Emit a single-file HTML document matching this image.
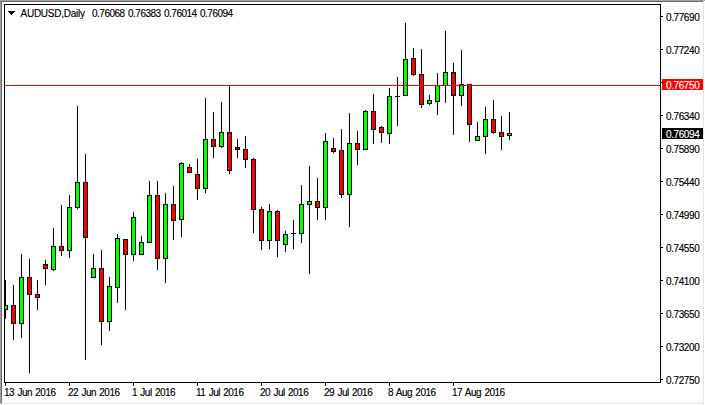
<!DOCTYPE html>
<html><head><meta charset="utf-8"><style>
html,body{margin:0;padding:0;background:#fff;}
#w div{-webkit-text-stroke:0.15px currentColor;}
#w{position:relative;width:705px;height:405px;overflow:hidden;background:#fff;font-family:"Liberation Sans",sans-serif;}
svg{position:absolute;left:0;top:0;}
.t{position:absolute;white-space:nowrap;font-size:10px;line-height:12px;color:#000;}
.pl{position:absolute;left:666px;white-space:nowrap;font-size:10px;line-height:12px;color:#000;letter-spacing:-0.4px;}
.dl{position:absolute;top:387px;letter-spacing:-0.5px;word-spacing:1px;white-space:nowrap;font-size:10px;line-height:12px;color:#000;}
</style></head><body><div id="w">
<svg width="705" height="405" viewBox="0 0 705 405" shape-rendering="crispEdges">
<rect x="0" y="0" width="705" height="1" fill="#a0a0a0"/><rect x="0" y="0" width="1" height="404" fill="#a0a0a0"/><rect x="1" y="1" width="702" height="1" fill="#696969"/><rect x="1" y="1" width="1" height="402" fill="#696969"/><rect x="703" y="1" width="1" height="403" fill="#e3e3e3"/><rect x="1" y="403" width="703" height="1" fill="#e3e3e3"/><rect x="4" y="4" width="657" height="1" fill="#000"/><rect x="4" y="382" width="657" height="1" fill="#000"/><rect x="4" y="4" width="1" height="379" fill="#000"/><rect x="660" y="4" width="1" height="379" fill="#000"/><rect x="661" y="16" width="2" height="1" fill="#000"/><rect x="661" y="49" width="2" height="1" fill="#000"/><rect x="661" y="82" width="2" height="1" fill="#000"/><rect x="661" y="115" width="2" height="1" fill="#000"/><rect x="661" y="148" width="2" height="1" fill="#000"/><rect x="661" y="181" width="2" height="1" fill="#000"/><rect x="661" y="214" width="2" height="1" fill="#000"/><rect x="661" y="247" width="2" height="1" fill="#000"/><rect x="661" y="280" width="2" height="1" fill="#000"/><rect x="661" y="313" width="2" height="1" fill="#000"/><rect x="661" y="346" width="2" height="1" fill="#000"/><rect x="661" y="379" width="2" height="1" fill="#000"/><rect x="5" y="383" width="1" height="3" fill="#000"/><rect x="69" y="383" width="1" height="3" fill="#000"/><rect x="133" y="383" width="1" height="3" fill="#000"/><rect x="197" y="383" width="1" height="3" fill="#000"/><rect x="261" y="383" width="1" height="3" fill="#000"/><rect x="325" y="383" width="1" height="3" fill="#000"/><rect x="389" y="383" width="1" height="3" fill="#000"/><rect x="453" y="383" width="1" height="3" fill="#000"/><rect x="662" y="79" width="41" height="11" fill="#ff0000"/><rect x="662" y="128" width="41" height="11" fill="#000"/>
<svg x="5" y="5" width="655" height="377" viewBox="5 5 655 377" overflow="hidden"><rect x="5" y="280" width="1" height="39" fill="#000"/><rect x="3" y="305" width="5" height="5" fill="#000"/><rect x="4" y="306" width="3" height="3" fill="#00ff00"/><rect x="13" y="285" width="1" height="55" fill="#000"/><rect x="11" y="305" width="5" height="19" fill="#000"/><rect x="12" y="306" width="3" height="17" fill="#ff0000"/><rect x="21" y="254" width="1" height="84" fill="#000"/><rect x="19" y="277" width="5" height="47" fill="#000"/><rect x="20" y="278" width="3" height="45" fill="#00ff00"/><rect x="29" y="259" width="1" height="114" fill="#000"/><rect x="27" y="277" width="5" height="18" fill="#000"/><rect x="28" y="278" width="3" height="16" fill="#ff0000"/><rect x="37" y="280" width="1" height="30" fill="#000"/><rect x="35" y="294" width="5" height="4" fill="#000"/><rect x="36" y="295" width="3" height="2" fill="#ff0000"/><rect x="45" y="260" width="1" height="25" fill="#000"/><rect x="43" y="264" width="5" height="5" fill="#000"/><rect x="44" y="265" width="3" height="3" fill="#ff0000"/><rect x="53" y="228" width="1" height="43" fill="#000"/><rect x="51" y="246" width="5" height="24" fill="#000"/><rect x="52" y="247" width="3" height="22" fill="#00ff00"/><rect x="61" y="205" width="1" height="51" fill="#000"/><rect x="59" y="246" width="5" height="5" fill="#000"/><rect x="60" y="247" width="3" height="3" fill="#ff0000"/><rect x="69" y="195" width="1" height="63" fill="#000"/><rect x="67" y="207" width="5" height="44" fill="#000"/><rect x="68" y="208" width="3" height="42" fill="#00ff00"/><rect x="77" y="106" width="1" height="103" fill="#000"/><rect x="75" y="182" width="5" height="26" fill="#000"/><rect x="76" y="183" width="3" height="24" fill="#00ff00"/><rect x="85" y="154" width="1" height="206" fill="#000"/><rect x="83" y="182" width="5" height="56" fill="#000"/><rect x="84" y="183" width="3" height="54" fill="#ff0000"/><rect x="93" y="254" width="1" height="24" fill="#000"/><rect x="91" y="268" width="5" height="10" fill="#000"/><rect x="92" y="269" width="3" height="8" fill="#00ff00"/><rect x="101" y="250" width="1" height="95" fill="#000"/><rect x="99" y="268" width="5" height="54" fill="#000"/><rect x="100" y="269" width="3" height="52" fill="#ff0000"/><rect x="109" y="277" width="1" height="54" fill="#000"/><rect x="107" y="286" width="5" height="36" fill="#000"/><rect x="108" y="287" width="3" height="34" fill="#00ff00"/><rect x="117" y="234" width="1" height="69" fill="#000"/><rect x="115" y="238" width="5" height="50" fill="#000"/><rect x="116" y="239" width="3" height="48" fill="#00ff00"/><rect x="125" y="239" width="1" height="71" fill="#000"/><rect x="123" y="239" width="5" height="16" fill="#000"/><rect x="124" y="240" width="3" height="14" fill="#ff0000"/><rect x="133" y="212" width="1" height="49" fill="#000"/><rect x="131" y="217" width="5" height="38" fill="#000"/><rect x="132" y="218" width="3" height="36" fill="#00ff00"/><rect x="141" y="236" width="1" height="19" fill="#000"/><rect x="139" y="242" width="5" height="13" fill="#000"/><rect x="140" y="243" width="3" height="11" fill="#00ff00"/><rect x="149" y="181" width="1" height="62" fill="#000"/><rect x="147" y="195" width="5" height="48" fill="#000"/><rect x="148" y="196" width="3" height="46" fill="#00ff00"/><rect x="157" y="181" width="1" height="89" fill="#000"/><rect x="155" y="195" width="5" height="64" fill="#000"/><rect x="156" y="196" width="3" height="62" fill="#ff0000"/><rect x="165" y="193" width="1" height="90" fill="#000"/><rect x="163" y="204" width="5" height="55" fill="#000"/><rect x="164" y="205" width="3" height="53" fill="#00ff00"/><rect x="173" y="186" width="1" height="54" fill="#000"/><rect x="171" y="204" width="5" height="17" fill="#000"/><rect x="172" y="205" width="3" height="15" fill="#ff0000"/><rect x="181" y="162" width="1" height="75" fill="#000"/><rect x="179" y="163" width="5" height="57" fill="#000"/><rect x="180" y="164" width="3" height="55" fill="#00ff00"/><rect x="189" y="164" width="1" height="9" fill="#000"/><rect x="187" y="167" width="5" height="6" fill="#000"/><rect x="188" y="168" width="3" height="4" fill="#ff0000"/><rect x="197" y="159" width="1" height="41" fill="#000"/><rect x="195" y="174" width="5" height="15" fill="#000"/><rect x="196" y="175" width="3" height="13" fill="#ff0000"/><rect x="205" y="98" width="1" height="95" fill="#000"/><rect x="203" y="139" width="5" height="50" fill="#000"/><rect x="204" y="140" width="3" height="48" fill="#00ff00"/><rect x="213" y="112" width="1" height="46" fill="#000"/><rect x="211" y="139" width="5" height="8" fill="#000"/><rect x="212" y="140" width="3" height="6" fill="#ff0000"/><rect x="221" y="102" width="1" height="46" fill="#000"/><rect x="219" y="132" width="5" height="15" fill="#000"/><rect x="220" y="133" width="3" height="13" fill="#00ff00"/><rect x="229" y="85" width="1" height="89" fill="#000"/><rect x="227" y="132" width="5" height="39" fill="#000"/><rect x="228" y="133" width="3" height="37" fill="#ff0000"/><rect x="237" y="139" width="1" height="19" fill="#000"/><rect x="235" y="147" width="5" height="3" fill="#000"/><rect x="236" y="148" width="3" height="1" fill="#ff0000"/><rect x="245" y="136" width="1" height="32" fill="#000"/><rect x="243" y="149" width="5" height="11" fill="#000"/><rect x="244" y="150" width="3" height="9" fill="#ff0000"/><rect x="253" y="158" width="1" height="75" fill="#000"/><rect x="251" y="159" width="5" height="51" fill="#000"/><rect x="252" y="160" width="3" height="49" fill="#ff0000"/><rect x="261" y="207" width="1" height="43" fill="#000"/><rect x="259" y="209" width="5" height="32" fill="#000"/><rect x="260" y="210" width="3" height="30" fill="#ff0000"/><rect x="269" y="204" width="1" height="45" fill="#000"/><rect x="267" y="211" width="5" height="30" fill="#000"/><rect x="268" y="212" width="3" height="28" fill="#00ff00"/><rect x="277" y="210" width="1" height="47" fill="#000"/><rect x="275" y="211" width="5" height="30" fill="#000"/><rect x="276" y="212" width="3" height="28" fill="#ff0000"/><rect x="285" y="231" width="1" height="21" fill="#000"/><rect x="283" y="234" width="5" height="11" fill="#000"/><rect x="284" y="235" width="3" height="9" fill="#00ff00"/><rect x="293" y="220" width="1" height="29" fill="#000"/><rect x="291" y="233" width="5" height="1" fill="#000"/><rect x="301" y="185" width="1" height="58" fill="#000"/><rect x="299" y="204" width="5" height="30" fill="#000"/><rect x="300" y="205" width="3" height="28" fill="#00ff00"/><rect x="309" y="166" width="1" height="108" fill="#000"/><rect x="307" y="201" width="5" height="4" fill="#000"/><rect x="308" y="202" width="3" height="2" fill="#00ff00"/><rect x="317" y="178" width="1" height="42" fill="#000"/><rect x="315" y="201" width="5" height="7" fill="#000"/><rect x="316" y="202" width="3" height="5" fill="#ff0000"/><rect x="325" y="133" width="1" height="87" fill="#000"/><rect x="323" y="141" width="5" height="67" fill="#000"/><rect x="324" y="142" width="3" height="65" fill="#00ff00"/><rect x="333" y="138" width="1" height="15" fill="#000"/><rect x="331" y="148" width="5" height="4" fill="#000"/><rect x="332" y="149" width="3" height="2" fill="#ff0000"/><rect x="341" y="129" width="1" height="69" fill="#000"/><rect x="339" y="150" width="5" height="45" fill="#000"/><rect x="340" y="151" width="3" height="43" fill="#ff0000"/><rect x="349" y="113" width="1" height="114" fill="#000"/><rect x="347" y="143" width="5" height="52" fill="#000"/><rect x="348" y="144" width="3" height="50" fill="#00ff00"/><rect x="357" y="131" width="1" height="34" fill="#000"/><rect x="355" y="143" width="5" height="7" fill="#000"/><rect x="356" y="144" width="3" height="5" fill="#ff0000"/><rect x="365" y="110" width="1" height="40" fill="#000"/><rect x="363" y="111" width="5" height="39" fill="#000"/><rect x="364" y="112" width="3" height="37" fill="#00ff00"/><rect x="373" y="94" width="1" height="50" fill="#000"/><rect x="371" y="111" width="5" height="19" fill="#000"/><rect x="372" y="112" width="3" height="17" fill="#ff0000"/><rect x="381" y="126" width="1" height="17" fill="#000"/><rect x="379" y="127" width="5" height="6" fill="#000"/><rect x="380" y="128" width="3" height="4" fill="#ff0000"/><rect x="389" y="88" width="1" height="56" fill="#000"/><rect x="387" y="96" width="5" height="38" fill="#000"/><rect x="388" y="97" width="3" height="36" fill="#00ff00"/><rect x="397" y="77" width="1" height="49" fill="#000"/><rect x="395" y="96" width="5" height="1" fill="#000"/><rect x="405" y="23" width="1" height="73" fill="#000"/><rect x="403" y="59" width="5" height="37" fill="#000"/><rect x="404" y="60" width="3" height="35" fill="#00ff00"/><rect x="413" y="48" width="1" height="28" fill="#000"/><rect x="411" y="58" width="5" height="17" fill="#000"/><rect x="412" y="59" width="3" height="15" fill="#ff0000"/><rect x="421" y="49" width="1" height="59" fill="#000"/><rect x="419" y="74" width="5" height="31" fill="#000"/><rect x="420" y="75" width="3" height="29" fill="#ff0000"/><rect x="429" y="95" width="1" height="10" fill="#000"/><rect x="427" y="100" width="5" height="4" fill="#000"/><rect x="428" y="101" width="3" height="2" fill="#00ff00"/><rect x="437" y="73" width="1" height="42" fill="#000"/><rect x="435" y="85" width="5" height="17" fill="#000"/><rect x="436" y="86" width="3" height="15" fill="#00ff00"/><rect x="445" y="31" width="1" height="72" fill="#000"/><rect x="443" y="72" width="5" height="14" fill="#000"/><rect x="444" y="73" width="3" height="12" fill="#00ff00"/><rect x="453" y="63" width="1" height="72" fill="#000"/><rect x="451" y="72" width="5" height="24" fill="#000"/><rect x="452" y="73" width="3" height="22" fill="#ff0000"/><rect x="461" y="50" width="1" height="56" fill="#000"/><rect x="459" y="84" width="5" height="12" fill="#000"/><rect x="460" y="85" width="3" height="10" fill="#00ff00"/><rect x="469" y="84" width="1" height="58" fill="#000"/><rect x="467" y="84" width="5" height="41" fill="#000"/><rect x="468" y="85" width="3" height="39" fill="#ff0000"/><rect x="477" y="122" width="1" height="19" fill="#000"/><rect x="475" y="136" width="5" height="5" fill="#000"/><rect x="476" y="137" width="3" height="3" fill="#00ff00"/><rect x="485" y="107" width="1" height="47" fill="#000"/><rect x="483" y="119" width="5" height="18" fill="#000"/><rect x="484" y="120" width="3" height="16" fill="#00ff00"/><rect x="493" y="100" width="1" height="34" fill="#000"/><rect x="491" y="119" width="5" height="14" fill="#000"/><rect x="492" y="120" width="3" height="12" fill="#ff0000"/><rect x="501" y="116" width="1" height="34" fill="#000"/><rect x="499" y="132" width="5" height="5" fill="#000"/><rect x="500" y="133" width="3" height="3" fill="#ff0000"/><rect x="509" y="112" width="1" height="28" fill="#000"/><rect x="507" y="133" width="5" height="3" fill="#000"/><rect x="508" y="134" width="3" height="1" fill="#00ff00"/></svg>
<rect x="5" y="85" width="655" height="1" fill="#ff0000"/>
<polygon points="8,11 15,11 11.5,15" fill="#000"/>
</svg>
<div class="t" style="left:20.5px;top:8px;letter-spacing:-0.25px">AUDUSD,Daily</div>
<div class="t" style="left:92px;top:8px;letter-spacing:-0.5px">0.76068</div>
<div class="t" style="left:128px;top:8px;letter-spacing:-0.5px">0.76383</div>
<div class="t" style="left:164px;top:8px;letter-spacing:-0.5px">0.76014</div>
<div class="t" style="left:200px;top:8px;letter-spacing:-0.5px">0.76094</div>
<div class="pl" style="top:12px">0.77690</div><div class="pl" style="top:45px">0.77240</div><div class="pl" style="top:111px">0.76340</div><div class="pl" style="top:144px">0.75890</div><div class="pl" style="top:177px">0.75440</div><div class="pl" style="top:210px">0.74990</div><div class="pl" style="top:243px">0.74550</div><div class="pl" style="top:276px">0.74100</div><div class="pl" style="top:309px">0.73650</div><div class="pl" style="top:342px">0.73200</div><div class="pl" style="top:375px">0.72750</div>
<div class="pl" style="top:80px;color:#fff">0.76750</div>
<div class="pl" style="top:129px;color:#fff">0.76094</div>
<div class="dl" style="left:4px">13 Jun 2016</div><div class="dl" style="left:68px">22 Jun 2016</div><div class="dl" style="left:132px">1 Jul 2016</div><div class="dl" style="left:196px">11 Jul 2016</div><div class="dl" style="left:260px">20 Jul 2016</div><div class="dl" style="left:324px">29 Jul 2016</div><div class="dl" style="left:388px">8 Aug 2016</div><div class="dl" style="left:452px">17 Aug 2016</div>
</div></body></html>
